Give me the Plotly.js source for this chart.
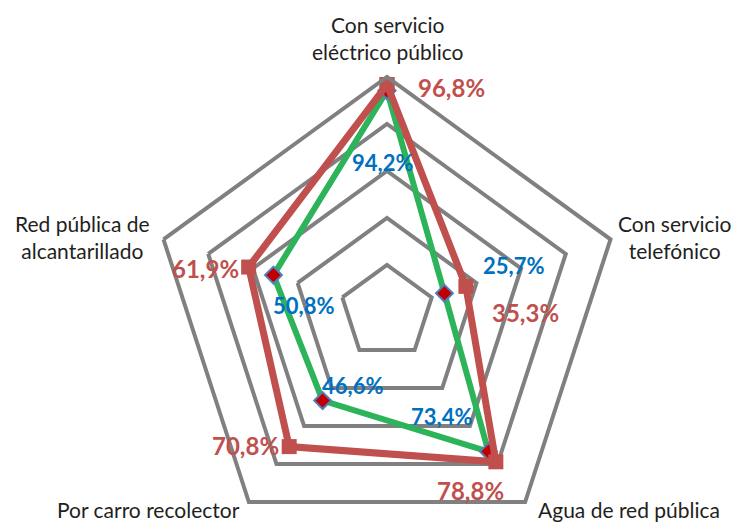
<!DOCTYPE html>
<html>
<head>
<meta charset="utf-8">
<script src="https://cdn.plot.ly/plotly-3.0.1.min.js"></script>
<style>
  html, body { margin: 0; padding: 0; overflow: hidden; background: #fff; }
  #chart { width: 742px; height: 560px; }
</style>
</head>
<body>
<div id="chart"></div>
<script>
// ---- data ----
const categories = ['Con servicio eléctrico público', 'Con servicio telefónico', 'Agua de red pública', 'Por carro recolector', 'Red pública de alcantarillado'];
const axisLabels = ['Con servicio<br>eléctrico público', 'Con servicio<br>telefónico', 'Agua de red pública', 'Por carro recolector', 'Red pública de<br>alcantarillado'];
const redValues = [96.8, 35.3, 78.8, 70.8, 61.9];
const greenValues = [94.2, 25.7, 73.4, 46.6, 50.8];
const gridLevels = [20, 40, 60, 80];

// ---- layout helpers (pixel placement of labels) ----
const W = 742, H = 560;
const px = x => x / W;
const py = y => 1 - y / H;
const axisLabelPos = [[388, 38], [675, 237], [629, 509], [148, 509], [82, 237]];
const redLabelPos = [[451, 87], [525, 312], [470, 490], [245, 446], [205, 268]];
const greenLabelPos = [[383, 162], [513, 265], [442, 416], [352, 385], [303, 305]];

const fmt = v => v.toFixed(1).replace('.', ',') + '%';
const closeLoop = a => a.concat([a[0]]);

const RED = '#C0504D';
const GREEN = '#2DB35A';
const GRAY = '#808080';

const traces = [
  {
    type: 'scatterpolar',
    r: closeLoop(greenValues),
    theta: closeLoop(categories),
    mode: 'lines+markers',
    line: { color: GREEN, width: 6 },
    marker: { symbol: 'diamond', size: 13, color: '#C00000', line: { color: '#4F81BD', width: 2 } },
    cliponaxis: false,
    hoverinfo: 'skip'
  },
  {
    type: 'scatterpolar',
    r: closeLoop(redValues),
    theta: closeLoop(categories),
    mode: 'lines+markers',
    line: { color: RED, width: 7 },
    marker: { symbol: 'square', size: 15, color: RED },
    cliponaxis: false,
    hoverinfo: 'skip'
  }
];

const annotations = [];
axisLabels.forEach((t, i) => {
  annotations.push({
    xref: 'paper', yref: 'paper', x: px(axisLabelPos[i][0]), y: py(axisLabelPos[i][1]),
    xanchor: 'center', yanchor: 'middle', showarrow: false, text: t,
    font: { family: 'Lato, sans-serif', size: 21, color: '#231F20' }, align: 'center'
  });
});
redValues.forEach((v, i) => {
  annotations.push({
    xref: 'paper', yref: 'paper', x: px(redLabelPos[i][0]), y: py(redLabelPos[i][1]),
    xanchor: 'center', yanchor: 'middle', showarrow: false, text: '<b>' + fmt(v) + '</b>',
    font: { family: 'Lato, sans-serif', size: 24, color: RED }
  });
});
greenValues.forEach((v, i) => {
  annotations.push({
    xref: 'paper', yref: 'paper', x: px(greenLabelPos[i][0]), y: py(greenLabelPos[i][1]),
    xanchor: 'center', yanchor: 'middle', showarrow: false, text: '<b>' + fmt(v) + '</b>',
    font: { family: 'Lato, sans-serif', size: 22, color: '#0070C0' }
  });
});

const cx = 387, cy = 312, R = 235;
const layout = {
  width: W, height: H,
  margin: { l: 0, r: 0, t: 0, b: 0 },
  paper_bgcolor: '#fff',
  showlegend: false,
  polar: {
    domain: { x: [px(cx - R), px(cx + R)], y: [py(cy + R), py(cy - R)] },
    bgcolor: '#fff',
    gridshape: 'linear',
    radialaxis: {
      range: [0, 100], tickvals: gridLevels, showticklabels: false, ticks: '',
      showline: false, gridcolor: GRAY, gridwidth: 4
    },
    angularaxis: {
      type: 'category', categoryarray: categories, rotation: 90, direction: 'clockwise',
      showticklabels: false, ticks: '', showgrid: false,
      showline: true, linecolor: GRAY, linewidth: 4
    }
  },
  annotations: annotations
};

Plotly.newPlot('chart', traces, layout, { displayModeBar: false, staticPlot: true });
</script>
</body>
</html>
